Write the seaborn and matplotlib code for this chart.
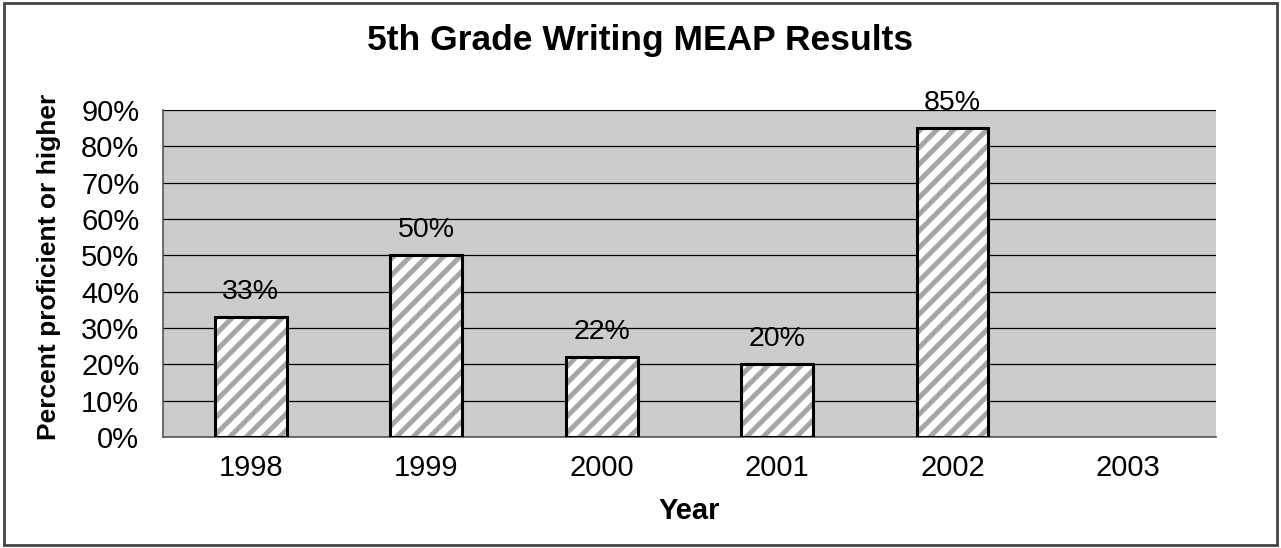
import matplotlib
matplotlib.use("Agg")
import matplotlib.pyplot as plt
import matplotlib.patches as mpatches
import seaborn as sns
import numpy as np
import pandas as pd

years = ["1998", "1999", "2000", "2001", "2002", "2003"]
percent = [33, 50, 22, 20, 85, np.nan]
bar_labels = ["33%", "50%", "22%", "20%", "85%", ""]
y_ticks = [0, 10, 20, 30, 40, 50, 60, 70, 80, 90]

sns.set_theme(style="white")
plt.rcParams["font.family"] = ["Liberation Sans", "DejaVu Sans"]
plt.rcParams["text.color"] = "black"
plt.rcParams["axes.labelcolor"] = "black"
plt.rcParams["xtick.color"] = "black"
plt.rcParams["ytick.color"] = "black"
plt.rcParams["hatch.linewidth"] = 3.6

df = pd.DataFrame({"Year": years, "Percent": percent})

fig = plt.figure(figsize=(12.81, 5.48), dpi=100)
ax = fig.add_axes([0.1272, 0.2026, 0.8218, 0.5966])
ax.set_facecolor("#cccccc")

# grey diagonal hatching on white bars
sns.barplot(data=df, x="Year", y="Percent", order=years, ax=ax, errorbar=None,
            color="white", width=0.41, edgecolor="#a6a6a6", linewidth=0,
            hatch="//", saturation=1, zorder=3)
# black outline on top
sns.barplot(data=df, x="Year", y="Percent", order=years, ax=ax, errorbar=None,
            color="black", fill=False, width=0.41, linewidth=2.2,
            saturation=1, zorder=4)

ax.set_ylim(0, 90)
ax.set_xlim(-0.5, len(years) - 0.5)
ax.set_yticks(y_ticks)
ax.set_yticklabels([f"{v}%" for v in y_ticks], fontsize=21)
ax.yaxis.grid(True, color="black", linewidth=0.9, zorder=0)
ax.set_axisbelow(True)

# category boundary ticks on the x axis
ax.set_xticks(np.arange(len(years)))
ax.set_xticklabels(years, fontsize=21)
ax.tick_params(axis="x", length=0, pad=12)
ax.set_xticks(np.arange(len(years) + 1) - 0.5, minor=True)
ax.tick_params(axis="x", which="minor", length=6, width=1, color="black", direction="out")
ax.tick_params(axis="y", length=6, width=1, color="black", direction="out", pad=11)

for s in ["top", "right"]:
    ax.spines[s].set_visible(False)
for s in ["left", "bottom"]:
    ax.spines[s].set_color("#555555")
    ax.spines[s].set_linewidth(1.2)

for i, (v, lab) in enumerate(zip(percent, bar_labels)):
    if lab:
        ax.annotate(lab, (i, v), xytext=(0, 9), textcoords="offset points",
                    ha="center", va="bottom", fontsize=20.5)

ax.set_xlabel("Year", fontsize=21, fontweight="bold", labelpad=11)
ax.set_ylabel("Percent proficient or higher", fontsize=19, fontweight="bold")
ax.yaxis.set_label_coords(-0.097, 0.52)
fig.suptitle("5th Grade Writing MEAP Results", fontsize=25.5, fontweight="bold", y=0.957)

# outer frame around the whole chart
fig.patches.append(mpatches.Rectangle((0.003, 0.005), 0.994, 0.99, transform=fig.transFigure,
                                      fill=False, edgecolor="#444444", linewidth=2))

fig.savefig("out.png", dpi=100)
